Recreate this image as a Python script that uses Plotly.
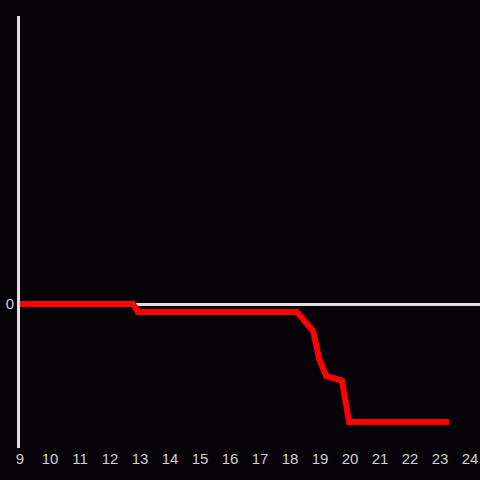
import plotly.graph_objects as go

x_vals = [9, 12.77, 12.93, 18.23, 18.77, 18.97, 19.2, 19.73, 19.97, 23.3]
y_vals = [0, 0, -0.68, -0.68, -2.3, -4.6, -6.1, -6.5, -10, -10]
x_ticks = list(range(9, 25))

fig = go.Figure(go.Scatter(x=x_vals, y=y_vals, mode="lines",
                           line=dict(color="#ff0000", width=6)))
fig.update_layout(
    width=480, height=480,
    paper_bgcolor="#050307", plot_bgcolor="#050307",
    margin=dict(l=20, r=0, t=16, b=32),
    showlegend=False,
    font=dict(family="Liberation Sans, Arial, sans-serif", size=15, color="#d0d0d0"),
)
fig.update_xaxes(range=[9, 24.333], tickvals=x_ticks, ticktext=[str(t) for t in x_ticks],
                 showgrid=False, zeroline=False, showline=False, ticks="")
fig.update_yaxes(range=[-12.2, 24.4], tickvals=[0], ticktext=["0"], showgrid=False,
                 zeroline=True, zerolinecolor="#e0e0e0", zerolinewidth=3,
                 showline=True, linecolor="#e0e0e0", linewidth=3, ticks="")
fig.write_html("out.html", config={"displayModeBar": False},
               post_script="document.body.style.margin='0';document.body.style.background='#050307';")
